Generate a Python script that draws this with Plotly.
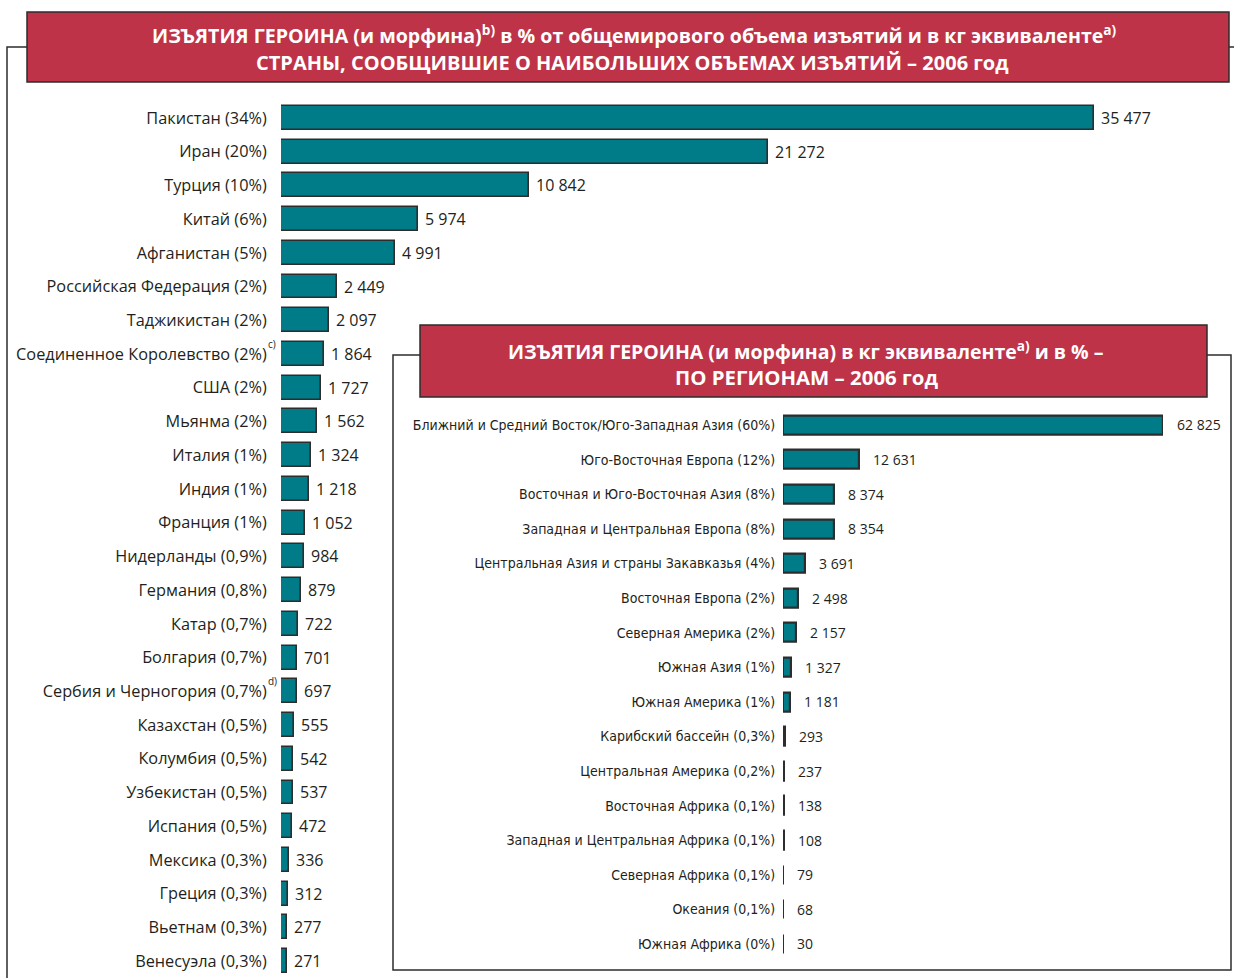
import plotly.graph_objects as go

W, H = 1234, 978

countries = ["Пакистан (34%)", "Иран (20%)", "Турция (10%)", "Китай (6%)", "Афганистан (5%)",
             "Российская Федерация (2%)", "Таджикистан (2%)", "Соединенное Королевство (2%)",
             "США (2%)", "Мьянма (2%)", "Италия (1%)", "Индия (1%)", "Франция (1%)",
             "Нидерланды (0,9%)", "Германия (0,8%)", "Катар (0,7%)", "Болгария (0,7%)",
             "Сербия и Черногория (0,7%)", "Казахстан (0,5%)", "Колумбия (0,5%)",
             "Узбекистан (0,5%)", "Испания (0,5%)", "Мексика (0,3%)", "Греция (0,3%)",
             "Вьетнам (0,3%)", "Венесуэла (0,3%)"]
country_kg = [35477, 21272, 10842, 5974, 4991, 2449, 2097, 1864, 1727, 1562, 1324, 1218, 1052,
              984, 879, 722, 701, 697, 555, 542, 537, 472, 336, 312, 277, 271]
country_notes = {"Соединенное Королевство (2%)": "c)", "Сербия и Черногория (0,7%)": "d)"}

regions = ["Ближний и Средний Восток/Юго-Западная Азия (60%)", "Юго-Восточная Европа (12%)",
           "Восточная и Юго-Восточная Азия (8%)", "Западная и Центральная Европа (8%)",
           "Центральная Азия и страны Закавказья (4%)", "Восточная Европа (2%)",
           "Северная Америка (2%)", "Южная Азия (1%)", "Южная Америка (1%)",
           "Карибский бассейн (0,3%)", "Центральная Америка (0,2%)", "Восточная Африка (0,1%)",
           "Западная и Центральная Африка (0,1%)", "Северная Африка (0,1%)", "Океания (0,1%)",
           "Южная Африка (0%)"]
region_kg = [62825, 12631, 8374, 8354, 3691, 2498, 2157, 1327, 1181, 293, 237, 138, 108, 79, 68, 30]

title_main_1 = "ИЗЪЯТИЯ ГЕРОИНА (и морфина)<sup>b)</sup> в % от общемирового объема изъятий и в кг эквиваленте<sup>a)</sup>"
title_main_2 = "СТРАНЫ, СООБЩИВШИЕ О НАИБОЛЬШИХ ОБЪЕМАХ ИЗЪЯТИЙ – 2006 год"
title_inset_1 = "ИЗЪЯТИЯ ГЕРОИНА (и морфина) в кг эквиваленте<sup>a)</sup> и в % –"
title_inset_2 = "ПО РЕГИОНАМ – 2006 год"

TEAL = "#007B88"
EDGE = "#2d2d2d"
RED = "#BE3348"
TXT = "#231F20"
FONT = "Open Sans, Noto Sans, sans-serif"
NARROW = "Liberation Sans Narrow, DejaVu Sans Condensed, sans-serif"

def px(x):
    return x / W

def py(y):
    return 1 - y / H

def fmt(v):
    return f"{v:,}".replace(",", " ")

fig = go.Figure()

fig.add_trace(go.Bar(
    x=country_kg, y=countries, orientation="h", width=0.71,
    marker=dict(color=TEAL, line=dict(color=EDGE, width=1.6)),
    xaxis="x", yaxis="y", hoverinfo="x+y", showlegend=False))

fig.add_trace(go.Bar(
    x=region_kg, y=regions, orientation="h", width=0.55,
    marker=dict(color=TEAL, line=dict(color=EDGE, width=2.2)),
    xaxis="x2", yaxis="y2", hoverinfo="x+y", showlegend=False))

ann = []
for c, v in zip(countries, country_kg):
    ann.append(dict(x=v, y=c, xref="x", yref="y", text=fmt(v), showarrow=False,
                    xanchor="left", yanchor="middle", xshift=5,
                    font=dict(family=FONT, size=16, color=TXT)))
for c, note in country_notes.items():
    ann.append(dict(x=px(266), y=c, xref="paper", yref="y", text=note, showarrow=False,
                    xanchor="left", yanchor="middle", yshift=10,
                    font=dict(family=FONT, size=10, color=TXT)))
for r, v in zip(regions, region_kg):
    ann.append(dict(x=v, y=r, xref="x2", yref="y2", text=fmt(v), showarrow=False,
                    xanchor="left", yanchor="middle", xshift=12,
                    font=dict(family=FONT, size=14, color=TXT)))

# titles
for txt, x, y, s in [(title_main_1, 634, 35, 19.6), (title_main_2, 632, 63, 20),
                     (title_inset_1, 806, 350, 19.5), (title_inset_2, 806, 377, 20.4)]:
    ann.append(dict(x=px(x), y=py(y), xref="paper", yref="paper", text=txt, showarrow=False,
                    xanchor="center", yanchor="middle",
                    font=dict(family=FONT, size=s, color="white", weight="bold")))

shapes = [
    dict(type="rect", xref="paper", yref="paper", x0=px(7), x1=px(1300), y0=py(47), y1=py(1100),
         line=dict(color=EDGE, width=1.5), fillcolor="rgba(0,0,0,0)", layer="below"),
    dict(type="rect", xref="paper", yref="paper", x0=px(27), x1=px(1229), y0=py(12), y1=py(82),
         line=dict(color=EDGE, width=1.5), fillcolor=RED, layer="above"),
    dict(type="rect", xref="paper", yref="paper", x0=px(393), x1=px(1231), y0=py(355), y1=py(970),
         line=dict(color=EDGE, width=1.5), fillcolor="white", layer="below"),
    dict(type="rect", xref="paper", yref="paper", x0=px(420), x1=px(1207), y0=py(325), y1=py(397),
         line=dict(color=EDGE, width=1.5), fillcolor=RED, layer="above"),
]

n1, n2 = len(countries), len(regions)
fig.update_layout(
    width=W, height=H, margin=dict(l=0, r=0, t=0, b=0),
    paper_bgcolor="white", plot_bgcolor="rgba(0,0,0,0)",
    bargap=0,
    xaxis=dict(domain=[px(281), px(1094)], range=[0, max(country_kg)], visible=False, fixedrange=True),
    yaxis=dict(domain=[0, py(101)], type="category", categoryorder="array", categoryarray=countries,
               range=[n1 - 0.5, -0.5], anchor="x", showgrid=False, zeroline=False, showline=False,
               ticks="outside", ticklen=10, tickcolor="rgba(0,0,0,0)",
               tickfont=dict(family=FONT, size=16.3, color=TXT)),
    xaxis2=dict(domain=[px(783), px(1163)], range=[0, max(region_kg)], visible=False, anchor="y2",
                fixedrange=True),
    yaxis2=dict(domain=[py(961.3), py(407.7)], type="category", categoryorder="array",
                categoryarray=regions, range=[n2 - 0.5, -0.5], anchor="x2", showgrid=False,
                zeroline=False, showline=False, ticks="outside", ticklen=4,
                tickcolor="rgba(0,0,0,0)", tickfont=dict(family=NARROW, size=14, color=TXT)),
    annotations=ann, shapes=shapes,
)

fig.write_html("out.html", config={"displayModeBar": False},
               post_script="document.body.style.margin='0';document.body.style.overflow='hidden';")
